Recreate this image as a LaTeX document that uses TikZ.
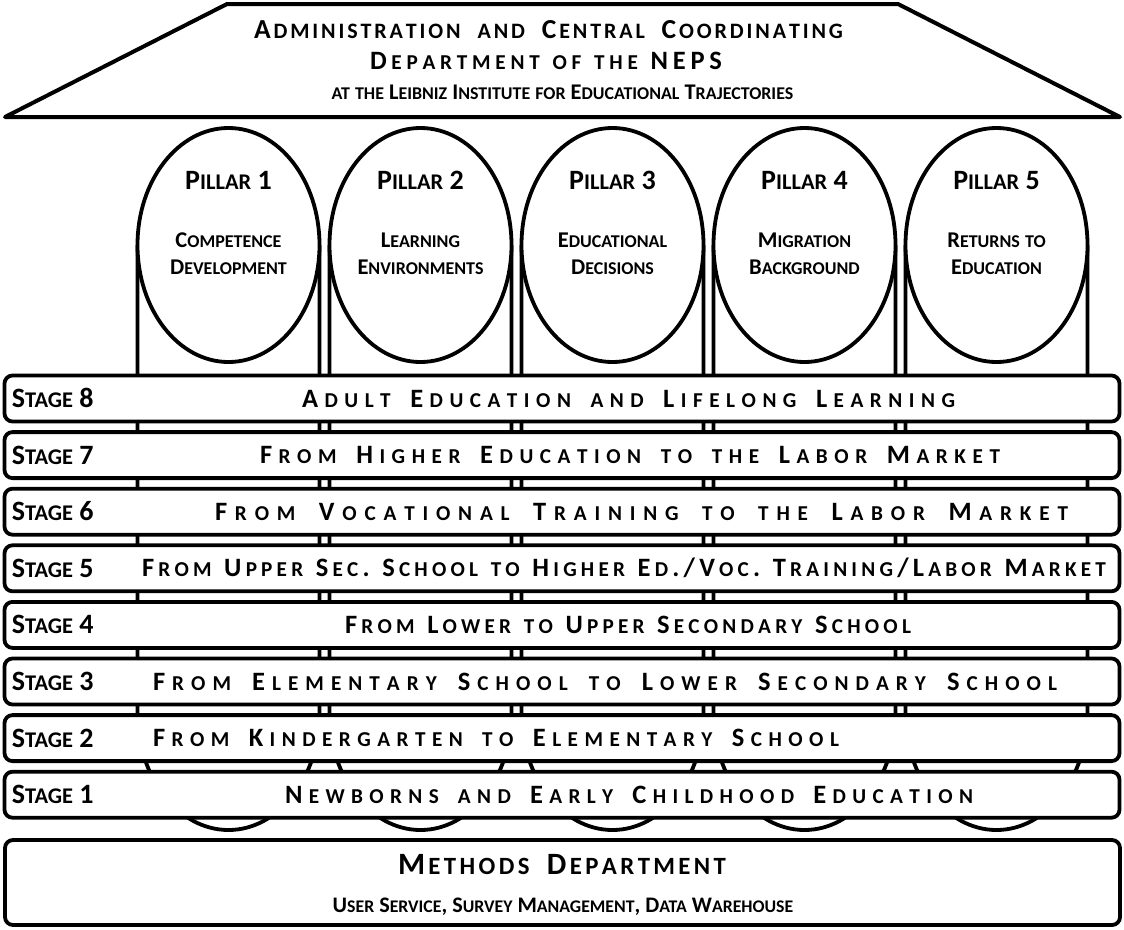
\documentclass[tikz,border=0pt]{standalone}
\usepackage{fontspec}
\setmainfont{Carlito}
\usetikzlibrary{shapes.geometric}

% size of the synthetic small capitals relative to the capitals
\newcommand\nepscscale{0.8}
% glue between words of letter-spaced lines
\newcommand\nepwordskip{0pt plus 3fil}

\ExplSyntaxOn
\bool_new:N \l__nep_firstw_bool
\bool_new:N \l__nep_firstc_bool
\seq_new:N \l__nep_words_seq

% one character: lowercase letters become smaller capitals
\cs_new_protected:Npn \__nep_char:n #1
  {
    \bool_lazy_and:nnTF
      { \int_compare_p:nNn { `#1 } > { 96 } }
      { \int_compare_p:nNn { `#1 } < { 123 } }
      {
        \group_begin:
          \fontsize { \fp_eval:n { \nepscscale * \use:c { f@size } } } { \baselineskip }
          \selectfont
          \tex_uppercase:D {#1}
        \group_end:
      }
      {#1}
  }
% one character of a letter-spaced word
\cs_new_protected:Npn \__nep_schar:n #1
  {
    \bool_if:NF \l__nep_firstc_bool { \hskip 0pt plus 1fil \scan_stop: }
    \bool_set_false:N \l__nep_firstc_bool
    \__nep_char:n {#1}
  }
% small caps with normal spacing
\cs_new_protected:Npn \nep_fsc:n #1
  {
    \seq_set_split:Nnn \l__nep_words_seq { ~ } {#1}
    \bool_set_true:N \l__nep_firstw_bool
    \seq_map_inline:Nn \l__nep_words_seq
      {
        \bool_if:NF \l__nep_firstw_bool { \c_space_tl }
        \bool_set_false:N \l__nep_firstw_bool
        \tl_map_function:nN {##1} \__nep_char:n
      }
  }
% small caps spread out to fill the enclosing box
\cs_new_protected:Npn \nep_ssc:n #1
  {
    \seq_set_split:Nnn \l__nep_words_seq { ~ } {#1}
    \bool_set_true:N \l__nep_firstw_bool
    \seq_map_inline:Nn \l__nep_words_seq
      {
        \bool_if:NF \l__nep_firstw_bool { \hskip \nepwordskip \scan_stop: }
        \bool_set_false:N \l__nep_firstw_bool
        \bool_set_true:N \l__nep_firstc_bool
        \tl_map_function:nN {##1} \__nep_schar:n
      }
  }
\cs_generate_variant:Nn \nep_fsc:n { x }
\cs_generate_variant:Nn \nep_ssc:n { x }
\NewDocumentCommand \fsc { m } { \nep_fsc:x {#1} }
\NewDocumentCommand \ssc { m } { \nep_ssc:x {#1} }
\ExplSyntaxOff

\newcommand\spread[2]{\hbox to #1pt{\ssc{#2}}}

\tikzset{
  heavy/.style={line width=3.8pt, line join=round},
  roofline/.style={line width=4pt, line join=round, fill=white},
  pillartop/.style={ellipse, draw, heavy, fill=white, inner sep=0pt, outer sep=0pt,
    minimum width=182pt, minimum height=234pt},
  stagebox/.style={draw, heavy, fill=white, rounded corners=8pt,
    minimum width=1115pt, minimum height=46pt, inner sep=0pt, outer sep=0pt},
  methodsbox/.style={draw, heavy, fill=white, rounded corners=8pt,
    minimum width=1115pt, minimum height=85pt, inner sep=0pt, outer sep=0pt},
  txt/.style={inner sep=0pt, outer sep=0pt, font=\bfseries},
  stagelabel/.style={txt, anchor=base west, font=\fontsize{28}{32}\selectfont\bfseries},
  stagetext/.style={txt, anchor=base west, font=\fontsize{26.5}{30}\selectfont\bfseries},
  pillartitle/.style={txt, anchor=base, font=\fontsize{28}{32}\selectfont\bfseries},
  pillarsub/.style={txt, anchor=base, align=center, font=\fontsize{22.5}{27}\selectfont\bfseries},
  rooftitle/.style={txt, anchor=base west, font=\fontsize{27.5}{32}\selectfont\bfseries},
  roofsub/.style={txt, anchor=base, font=\fontsize{22.4}{26}\selectfont\bfseries},
  methodstitle/.style={txt, anchor=base west, font=\fontsize{31}{36}\selectfont\bfseries},
  methodssub/.style={txt, anchor=base, font=\fontsize{22.2}{26}\selectfont\bfseries},
}

\begin{document}
\begin{tikzpicture}[x=1pt,y=-1pt]
\useasboundingbox (0,0) rectangle (1124,929);

% roof
\draw[roofline] (5,117) -- (227,4) -- (898,4) -- (1120,117) -- cycle;
\node[rooftitle] (r1) at (254,38)
  {\def\nepwordskip{14pt plus 1fil}\spread{589}{Administration and Central Coordinating}};
\node[rooftitle, font=\fontsize{26.5}{30}\selectfont\bfseries] (r2) at (370,69)
  {\def\nepwordskip{8pt plus 1fil}\spread{352}{Department of the NEPS}};
\node[roofsub] (r3) at (562.5,99)
  {\fsc{at the Leibniz Institute for Educational Trajectories}};

% pillars: shaft with rounded base, elliptic capital on top
\foreach \n/\cx/\ta/\tb in {1/228.5/Competence/Development,
                           2/420.5/Learning/Environments,
                           3/612.5/Educational/Decisions,
                           4/804.5/Migration/Background,
                           5/996.5/Returns to/Education}{
  \draw[heavy] (\cx-91,245) -- (\cx-91,713)
    arc[start angle=180, end angle=360, x radius=91pt, y radius=117pt]
    -- (\cx+91,245);
  \node[pillartop] (p\n) at (\cx,245) {};
  \node[pillartitle] (pt\n) at (\cx,189) {\fsc{Pillar \n}};
  \node[pillarsub] (ps\n) at (\cx,274) {\fsc{\ta}\\\fsc{\tb}};
}

% stages
\node[stagebox] (s8) at (562,398.5) {};
\node[stagebox] (s7) at (562,455.1) {};
\node[stagebox] (s6) at (562,511.7) {};
\node[stagebox] (s5) at (562,568.3) {};
\node[stagebox] (s4) at (562,624.9) {};
\node[stagebox] (s3) at (562,681.5) {};
\node[stagebox] (s2) at (562,738.1) {};
\node[stagebox] (s1) at (562,794.7) {};

\node[stagelabel] (l8) at (12,407.5) {\fsc{Stage 8}};
\node[stagelabel] (l7) at (12,464.1) {\fsc{Stage 7}};
\node[stagelabel] (l6) at (12,520.7) {\fsc{Stage 6}};
\node[stagelabel] (l5) at (12,577.3) {\fsc{Stage 5}};
\node[stagelabel] (l4) at (12,633.9) {\fsc{Stage 4}};
\node[stagelabel] (l3) at (12,690.5) {\fsc{Stage 3}};
\node[stagelabel] (l2) at (12,747.1) {\fsc{Stage 2}};
\node[stagelabel] (l1) at (12,803.7) {\fsc{Stage 1}};

\node[stagetext] (t8) at (302,407) {\spread{653}{Adult Education and Lifelong Learning}};
\node[stagetext] (t7) at (260,463.6) {\spread{740}{From Higher Education to the Labor Market}};
\node[stagetext] (t6) at (215,520.2) {\spread{853}{From Vocational Training to the Labor Market}};
\node[stagetext] (t5) at (142,576.8) {\spread{964}{From Upper Sec. School to Higher Ed./Voc. Training/Labor Market}};
\node[stagetext] (t4) at (345,633.4) {\spread{566}{From Lower to Upper Secondary School}};
\node[stagetext] (t3) at (153,690) {\spread{904}{From Elementary School to Lower Secondary School}};
\node[stagetext] (t2) at (153,746.6) {\spread{686}{From Kindergarten to Elementary School}};
\node[stagetext] (t1) at (285,803.2) {\spread{688}{Newborns and Early Childhood Education}};

% methods department
\node[methodsbox] (m) at (562.5,882.5) {};
\node[methodstitle] (mt) at (398,874)
  {\def\nepwordskip{14pt plus 1fil}\spread{328}{Methods Department}};
\node[methodssub] (ms) at (563,912)
  {\fsc{User Service, Survey Management, Data Warehouse}};
\end{tikzpicture}
\end{document}
